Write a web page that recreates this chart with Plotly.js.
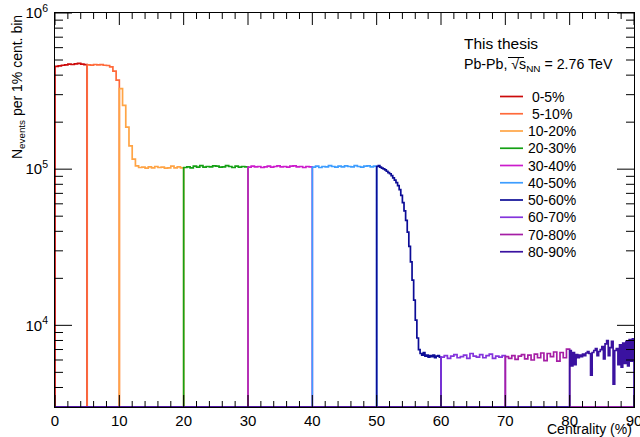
<!DOCTYPE html>
<html>
<head>
<meta charset="utf-8">
<script src="https://cdn.plot.ly/plotly-3.0.1.min.js"></script>
<style>html,body{margin:0;padding:0;background:#fff;}#chart{width:640px;height:437px;}</style>
</head>
<body>
<div id="chart"></div>
<script>
// Centrality classes (percent)
const classNames = ["0-5%", "5-10%", "10-20%", "20-30%", "30-40%", "40-50%", "50-60%", "60-70%", "70-80%", "80-90%"];
const classLow  = [0, 5, 10, 20, 30, 40, 50, 60, 70, 80];
const classHigh = [5, 10, 20, 30, 40, 50, 60, 70, 80, 90];
const classColors = ["#cc0a0a", "#ff6a3a", "#ffa445", "#14a014", "#cc1ccc", "#3d9dff", "#0c0c96", "#8434dc", "#a51ea5", "#3a12a0"];

// Number of events per bin (equal-width bins inside each class)
const n0_5 = [455000, 459000, 463000, 466000, 470000, 468000, 473000, 476000, 471000, 467000];
const n5_10 = [466000, 464000, 468000, 465000, 467000, 463000, 461000, 452000, 425000, 372000];
const n10_20 = [328000, 256000, 186000, 141000, 116000, 105000, 102500, 103000, 101500, 103500,
                102000, 104000, 102500, 103000, 101500, 102000, 104500, 102000, 103500, 102000];
const n20_30 = [102500, 103500, 102000, 104500, 103000, 105500, 103000, 104000, 103500, 105000,
                104500, 103000, 103500, 105500, 104000, 102500, 104500, 103000, 104000, 103500];
const n30_40 = [103000, 104500, 103500, 104000, 102500, 103500, 104500, 103000, 104000, 105000,
                103500, 104000, 103000, 104500, 105000, 103500, 104000, 102500, 104000, 103500];
const n40_50 = [103000, 104500, 102500, 104000, 103500, 105500, 104000, 103000, 104500, 103500,
                105000, 104000, 103500, 105500, 104000, 103000, 104500, 105000, 103500, 104500];
const n50_60 = [104000, 105500, 103000, 101500, 100500, 99000, 97000, 95000, 93500, 91000,
                88000, 85000, 82000, 78500, 74000, 68000, 61000, 54000, 47000, 39500,
                32000, 25500, 19500, 14500, 10800, 8300, 7000, 6600, 6450, 6700,
                6350, 6450, 6250, 6400, 6300, 6450, 6200, 6350, 6400, 6250];
const n60_70 = [6250, 6400, 6150, 6350, 6500, 6200, 6300, 6450, 6150, 6600,
                6350, 6250, 6500, 6200, 6400, 6550, 6150, 6350, 6250, 6400];
const n70_80 = [6300, 6150, 6400, 6050, 6350, 6500, 6100, 6450, 6000, 6550,
                6200, 6650, 5950, 6600, 6300, 6750, 5900, 6700, 6200, 7050];
const n80_90 = [6900, 5500, 6700, 5600, 6500, 6200, 6450, 6300, 6550, 6400,
                6650, 6800, 6600, 4800, 6700, 6900, 7100, 6400, 6800, 7000,
                7300, 6100, 7600, 8000, 6400, 7200, 7900, 4200, 6900, 7100,
                5600, 7500, 5400, 7700, 5700, 7900, 5500, 8100, 5900, 8200];
const classCounts = [n0_5, n5_10, n10_20, n20_30, n30_40, n40_50, n50_60, n60_70, n70_80, n80_90];

// Axis ticks
const xTickVals = [0, 10, 20, 30, 40, 50, 60, 70, 80, 90];
const xMinorVals = [2, 4, 6, 8, 12, 14, 16, 18, 22, 24, 26, 28, 32, 34, 36, 38, 42, 44, 46, 48,
                    52, 54, 56, 58, 62, 64, 66, 68, 72, 74, 76, 78, 82, 84, 86, 88];
const yTickVals = [1e4, 1e5, 1e6];
const yTickText = ["10<sup>4</sup>", "10<sup>5</sup>", "10<sup>6</sup>"];
const yMinorVals = [4000, 5000, 6000, 7000, 8000, 9000,
                    20000, 30000, 40000, 50000, 60000, 70000, 80000, 90000,
                    200000, 300000, 400000, 500000, 600000, 700000, 800000, 900000];

const xMin = 0, xMax = 90;
const yFloor = 3000, yMax = 1e6;
const yLo = Math.log10(yFloor), yHi = Math.log10(yMax);

// Plot area in pixels (for placing the free text and tick lengths)
const L = 55, R = 634, T = 13, B = 407;
const W = R - L, H = B - T;
const px = v => (v - L) / W;
const py = v => (B - v) / H;

const traces = classNames.map((name, k) => {
  const vals = classCounts[k];
  const lo = classLow[k], hi = classHigh[k];
  const w = (hi - lo) / vals.length;
  const xs = [xMin], ys = [yFloor];
  vals.forEach((v, i) => { xs.push(lo + i * w); ys.push(v); });
  xs.push(hi); ys.push(yFloor);
  xs.push(xMax); ys.push(yFloor);
  return {
    type: 'scatter', mode: 'lines', name: name,
    x: xs, y: ys,
    line: {shape: 'hv', color: classColors[k], width: 1.7},
    hoverinfo: 'skip', showlegend: false
  };
});

// Inside tick marks on all four sides, drawn as one line trace per axis
function xTickTrace() {
  const xs = [], ys = [];
  const add = (vals, len) => {
    const d = len / H * (yHi - yLo);
    vals.forEach(v => {
      xs.push(v, v, null); ys.push(yFloor, Math.pow(10, yLo + d), null);
      xs.push(v, v, null); ys.push(yMax, Math.pow(10, yHi - d), null);
    });
  };
  add(xTickVals, 12); add(xMinorVals, 6);
  return {type: 'scatter', mode: 'lines', x: xs, y: ys, line: {color: '#000', width: 1},
          connectgaps: false, hoverinfo: 'skip', showlegend: false};
}
function yTickTrace() {
  const xs = [], ys = [];
  const add = (vals, len) => {
    const d = len / W * (xMax - xMin);
    vals.forEach(v => {
      xs.push(xMin, xMin + d, null); ys.push(v, v, null);
      xs.push(xMax, xMax - d, null); ys.push(v, v, null);
    });
  };
  add(yTickVals, 17); add(yMinorVals, 8);
  return {type: 'scatter', mode: 'lines', x: xs, y: ys, line: {color: '#000', width: 1},
          connectgaps: false, hoverinfo: 'skip', showlegend: false};
}
traces.push(xTickTrace(), yTickTrace());

const FONT = 'Liberation Sans, Arial, Helvetica, sans-serif';
const annotations = [
  {xref: 'paper', yref: 'paper', x: px(18), y: 1.0, xanchor: 'center', yanchor: 'top', textangle: -90,
   text: 'N<sub>events</sub> per 1% cent. bin', showarrow: false, font: {family: FONT, size: 14, color: '#000'}},
  {xref: 'paper', yref: 'paper', x: 1.0, y: py(429), xanchor: 'right', yanchor: 'middle',
   text: 'Centrality (%)', showarrow: false, font: {family: FONT, size: 14, color: '#000'}},
  {xref: 'paper', yref: 'paper', x: px(462), y: py(43), xanchor: 'left', yanchor: 'middle',
   text: 'This thesis', showarrow: false, font: {family: FONT, size: 15.5, color: '#000'}},
  {xref: 'paper', yref: 'paper', x: px(462), y: py(65), xanchor: 'left', yanchor: 'middle',
   text: 'Pb-Pb, √s<sub>NN</sub> = 2.76 TeV', showarrow: false, font: {family: FONT, size: 14.2, color: '#000'}}
];
const shapes = [
  // overline of the square root
  {type: 'line', xref: 'paper', yref: 'paper', x0: px(508), x1: px(524), y0: py(57.5), y1: py(57.5),
   line: {color: '#000', width: 1}}
];
const legLabels = ["\u00A00-5%", "\u00A05-10%", "10-20%", "20-30%", "30-40%", "40-50%", "50-60%", "60-70%", "70-80%", "80-90%"];
legLabels.forEach((lab, i) => {
  const yy = 96.5 + i * 17.25;
  shapes.push({type: 'line', xref: 'paper', yref: 'paper', x0: px(500), x1: px(523), y0: py(yy), y1: py(yy),
               line: {color: classColors[i], width: 1.7}});
  annotations.push({xref: 'paper', yref: 'paper', x: px(526), y: py(yy), xanchor: 'left', yanchor: 'middle',
                    text: lab, showarrow: false, font: {family: FONT, size: 14, color: '#000'}});
});

const tickfont = {family: FONT, size: 15, color: '#000'};
const layout = {
  width: 640, height: 437,
  margin: {l: L, r: 640 - R, t: T, b: 437 - B},
  paper_bgcolor: '#fff', plot_bgcolor: '#fff',
  showlegend: false,
  xaxis: {
    range: [xMin, xMax], showgrid: false, zeroline: false,
    showline: true, linecolor: '#000', linewidth: 1, mirror: true,
    ticks: '', tickmode: 'array', tickvals: xTickVals, tickfont: tickfont,
    ticklabeloverflow: 'allow'
  },
  yaxis: {
    type: 'log', range: [yLo, yHi], showgrid: false, zeroline: false,
    showline: true, linecolor: '#000', linewidth: 1, mirror: true,
    ticks: '', tickmode: 'array', tickvals: yTickVals, ticktext: yTickText, tickfont: tickfont,
    ticklabeloverflow: 'allow', ticklabelstandoff: 3
  },
  annotations: annotations,
  shapes: shapes
};

Plotly.newPlot('chart', traces, layout, {displayModeBar: false, staticPlot: true});
</script>
</body>
</html>
